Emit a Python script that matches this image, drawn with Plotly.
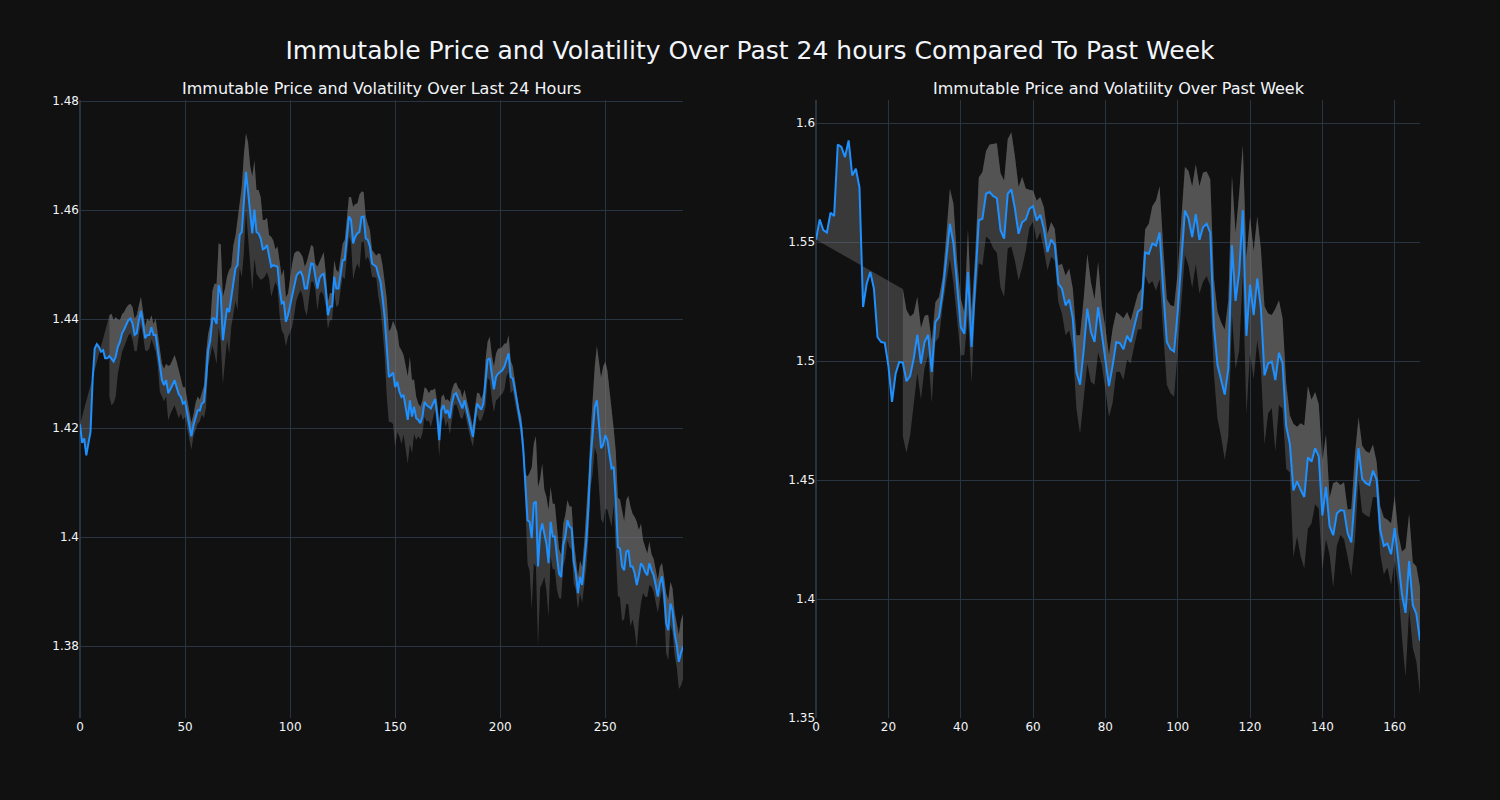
import plotly.graph_objects as go
from plotly.subplots import make_subplots

# ---------------- data ----------------
price_24h = [
    1.4207, 1.4173, 1.4181, 1.4150, 1.4172, 1.4193, 1.4288, 1.4346, 1.4354, 1.4349,
    1.4340, 1.4343, 1.4328, 1.4328, 1.4332, 1.4326, 1.4322, 1.4331, 1.4349, 1.4358,
    1.4374, 1.4381, 1.4391, 1.4398, 1.4401, 1.4392, 1.4371, 1.4374, 1.4398, 1.4415,
    1.4392, 1.4365, 1.4371, 1.4371, 1.4385, 1.4371, 1.4371, 1.4343, 1.4306, 1.4288,
    1.4279, 1.4288, 1.4264, 1.4271, 1.4279, 1.4288, 1.4276, 1.4262, 1.4257, 1.4245,
    1.4248, 1.4227, 1.4202, 1.4185, 1.4205, 1.4221, 1.4233, 1.4232, 1.4245, 1.4248,
    1.4288, 1.4343, 1.4361, 1.4401, 1.4401, 1.4391, 1.4462, 1.4447, 1.4361, 1.4392,
    1.4420, 1.4413, 1.4441, 1.4472, 1.4493, 1.4499, 1.4554, 1.4560, 1.4612, 1.4670,
    1.4634, 1.4591, 1.4557, 1.4601, 1.4560, 1.4557, 1.4548, 1.4528, 1.4530, 1.4536,
    1.4514, 1.4496, 1.4499, 1.4498, 1.4496, 1.4456, 1.4429, 1.4432, 1.4395, 1.4407,
    1.4426, 1.4444, 1.4465, 1.4479, 1.4485, 1.4487, 1.4478, 1.4456, 1.4456, 1.4478,
    1.4502, 1.4501, 1.4478, 1.4456, 1.4475, 1.4481, 1.4483, 1.4453, 1.4407, 1.4423,
    1.4423, 1.4478, 1.4456, 1.4456, 1.4481, 1.4508, 1.4509, 1.4548, 1.4588, 1.4582,
    1.4539, 1.4551, 1.4557, 1.4560, 1.4587, 1.4588, 1.4548, 1.4545, 1.4533, 1.4502,
    1.4499, 1.4496, 1.4481, 1.4469, 1.4439, 1.4403, 1.4348, 1.4294, 1.4297, 1.4302,
    1.4275, 1.4285, 1.4267, 1.4257, 1.4261, 1.4239, 1.4215, 1.4251, 1.4221, 1.4239,
    1.4218, 1.4215, 1.4209, 1.4221, 1.4248, 1.4242, 1.4239, 1.4236, 1.4245, 1.4253,
    1.4224, 1.4178, 1.4233, 1.4242, 1.4227, 1.4233, 1.4218, 1.4245, 1.4261, 1.4264,
    1.4254, 1.4245, 1.4236, 1.4251, 1.4233, 1.4215, 1.4199, 1.4184, 1.4218, 1.4245,
    1.4239, 1.4234, 1.4245, 1.4282, 1.4325, 1.4328, 1.4294, 1.4271, 1.4294, 1.4300,
    1.4303, 1.4306, 1.4313, 1.4325, 1.4337, 1.4294, 1.4291, 1.4270, 1.4245, 1.4221,
    1.4202, 1.4160, 1.4086, 1.4031, 1.4028, 1.3998, 1.4062, 1.4065, 1.3946, 1.4007,
    1.4025, 1.4007, 1.3988, 1.3952, 1.4028, 1.4001, 1.4001, 1.3964, 1.3933, 1.3927,
    1.3985, 1.4001, 1.4031, 1.4019, 1.4016, 1.3955, 1.3933, 1.3897, 1.3927, 1.3912,
    1.3952, 1.3994, 1.4056, 1.4141, 1.4190, 1.4239, 1.4251, 1.4202, 1.4163, 1.4169,
    1.4187, 1.4178, 1.4154, 1.4126, 1.4129, 1.4068, 1.3982, 1.3979, 1.3946, 1.3939,
    1.3973, 1.3976, 1.3946, 1.3946, 1.3933, 1.3912, 1.3930, 1.3952, 1.3946, 1.3936,
    1.3930, 1.3952, 1.3939, 1.3930, 1.3912, 1.3891, 1.3915, 1.3928, 1.3897, 1.3842,
    1.3829, 1.3878, 1.3866, 1.3823, 1.3802, 1.3771, 1.3787, 1.3799,
]

# volatility half-width of the band, first value belongs to index vol_24h_start
vol_24h_start = 14
vol_24h = [
    0.0075, 0.0084, 0.0076, 0.0073, 0.0050, 0.0040, 0.0035, 0.0032, 0.0030, 0.0028,
    0.0027, 0.0030, 0.0030, 0.0033, 0.0027, 0.0026, 0.0022, 0.0022, 0.0030, 0.0025,
    0.0022, 0.0020, 0.0030, 0.0028, 0.0040, 0.0030, 0.0030, 0.0030, 0.0050, 0.0045,
    0.0046, 0.0046, 0.0046, 0.0044, 0.0030, 0.0030, 0.0027, 0.0025, 0.0025, 0.0025,
    0.0020, 0.0025, 0.0025, 0.0020, 0.0020, 0.0030, 0.0050, 0.0030, 0.0030, 0.0050,
    0.0064, 0.0074, 0.0077, 0.0090, 0.0080, 0.0064, 0.0058, 0.0077, 0.0055, 0.0064,
    0.0060, 0.0083, 0.0060, 0.0083, 0.0090, 0.0071, 0.0090, 0.0090, 0.0105, 0.0090,
    0.0077, 0.0080, 0.0076, 0.0054, 0.0052, 0.0050, 0.0040, 0.0055, 0.0045, 0.0030,
    0.0037, 0.0050, 0.0050, 0.0060, 0.0045, 0.0040, 0.0050, 0.0058, 0.0056, 0.0045,
    0.0040, 0.0034, 0.0036, 0.0040, 0.0050, 0.0043, 0.0034, 0.0032, 0.0024, 0.0040,
    0.0030, 0.0030, 0.0040, 0.0030, 0.0025, 0.0025, 0.0025, 0.0030, 0.0034, 0.0030,
    0.0030, 0.0030, 0.0036, 0.0040, 0.0036, 0.0042, 0.0067, 0.0060, 0.0055, 0.0068,
    0.0047, 0.0045, 0.0040, 0.0030, 0.0030, 0.0025, 0.0022, 0.0020, 0.0040, 0.0050,
    0.0060, 0.0070, 0.0090, 0.0083, 0.0086, 0.0095, 0.0110, 0.0092, 0.0082, 0.0086,
    0.0073, 0.0078, 0.0080, 0.0080, 0.0067, 0.0050, 0.0040, 0.0030, 0.0030, 0.0030,
    0.0027, 0.0030, 0.0025, 0.0034, 0.0025, 0.0020, 0.0024, 0.0030, 0.0024, 0.0020,
    0.0024, 0.0020, 0.0030, 0.0025, 0.0020, 0.0020, 0.0020, 0.0025, 0.0020, 0.0020,
    0.0020, 0.0020, 0.0020, 0.0018, 0.0020, 0.0020, 0.0025, 0.0020, 0.0020, 0.0043,
    0.0033, 0.0040, 0.0040, 0.0042, 0.0043, 0.0046, 0.0043, 0.0043, 0.0042, 0.0030,
    0.0034, 0.0030, 0.0022, 0.0020, 0.0020, 0.0015, 0.0020, 0.0020, 0.0030, 0.0080,
    0.0090, 0.0130, 0.0110, 0.0120, 0.0146, 0.0100, 0.0110, 0.0080, 0.0086, 0.0098,
    0.0064, 0.0060, 0.0060, 0.0060, 0.0045, 0.0040, 0.0040, 0.0040, 0.0037, 0.0037,
    0.0040, 0.0040, 0.0030, 0.0030, 0.0030, 0.0033, 0.0040, 0.0050, 0.0055, 0.0050,
    0.0074, 0.0074, 0.0100, 0.0120, 0.0130, 0.0144, 0.0135, 0.0128, 0.0120, 0.0107,
    0.0070, 0.0090, 0.0090, 0.0090, 0.0100, 0.0090, 0.0095, 0.0100, 0.0110, 0.0097,
    0.0104, 0.0116, 0.0083, 0.0073, 0.0048, 0.0046, 0.0040, 0.0040, 0.0030, 0.0030,
    0.0030, 0.0030, 0.0030, 0.0025, 0.0030, 0.0055, 0.0055, 0.0040, 0.0040, 0.0040,
    0.0040, 0.0050, 0.0060, 0.0060,
]

price_7d = [
    1.5510, 1.5595, 1.5550, 1.5540, 1.5623, 1.5610, 1.5910, 1.5900, 1.5857, 1.5927,
    1.5780, 1.5808, 1.5730, 1.5227, 1.5325, 1.5374, 1.5304, 1.5100, 1.5080, 1.5077,
    1.4980, 1.4828, 1.4947, 1.4996, 1.4993, 1.4915, 1.4937, 1.5010, 1.5110, 1.4989,
    1.5080, 1.5110, 1.4954, 1.5164, 1.5185, 1.5290, 1.5430, 1.5577, 1.5493, 1.5304,
    1.5143, 1.5115, 1.5374, 1.5059, 1.5339, 1.5591, 1.5598, 1.5703, 1.5710, 1.5693,
    1.5685, 1.5550, 1.5514, 1.5703, 1.5721, 1.5640, 1.5535, 1.5584, 1.5595, 1.5640,
    1.5651, 1.5591, 1.5615, 1.5556, 1.5458, 1.5511, 1.5489, 1.5325, 1.5304, 1.5234,
    1.5259, 1.5178, 1.4954, 1.4901, 1.5045, 1.5220, 1.5122, 1.5080, 1.5227, 1.5108,
    1.5010, 1.4895, 1.4980, 1.5080, 1.5075, 1.5050, 1.5106, 1.5080, 1.5145, 1.5208,
    1.5220, 1.5456, 1.5450, 1.5494, 1.5485, 1.5540, 1.5298, 1.5080, 1.5050, 1.5040,
    1.5208, 1.5411, 1.5632, 1.5599, 1.5521, 1.5617, 1.5509, 1.5562, 1.5577, 1.5540,
    1.5148, 1.4983, 1.4923, 1.4859, 1.4968, 1.5486, 1.5253, 1.5374, 1.5634, 1.5106,
    1.5321, 1.5193, 1.5347, 1.5223, 1.4940, 1.4990, 1.4998, 1.4920, 1.5035, 1.4990,
    1.4727, 1.4652, 1.4456, 1.4494, 1.4459, 1.4429, 1.4595, 1.4577, 1.4634, 1.4599,
    1.4351, 1.4471, 1.4306, 1.4268, 1.4359, 1.4374, 1.4371, 1.4276, 1.4238, 1.4426,
    1.4634, 1.4505, 1.4487, 1.4479, 1.4539, 1.4502, 1.4291, 1.4223, 1.4233, 1.4188,
    1.4298, 1.4163, 1.4020, 1.3942, 1.4159, 1.3975, 1.3937, 1.3825,
]

vol_7d_start = 24
vol_7d = [
    0.0310, 0.0300, 0.0250, 0.0190, 0.0160, 0.0150, 0.0110, 0.0085, 0.0130, 0.0084,
    0.0084, 0.0060, 0.0098, 0.0147, 0.0168, 0.0120, 0.0120, 0.0090, 0.0180, 0.0150,
    0.0105, 0.0180, 0.0196, 0.0180, 0.0200, 0.0220, 0.0230, 0.0240, 0.0245, 0.0230,
    0.0240, 0.0220, 0.0196, 0.0190, 0.0130, 0.0080, 0.0066, 0.0084, 0.0074, 0.0090,
    0.0077, 0.0073, 0.0067, 0.0077, 0.0105, 0.0126, 0.0130, 0.0126, 0.0154, 0.0207,
    0.0217, 0.0230, 0.0210, 0.0180, 0.0190, 0.0126, 0.0130, 0.0130, 0.0156, 0.0126,
    0.0120, 0.0130, 0.0100, 0.0090, 0.0080, 0.0075, 0.0086, 0.0098, 0.0127, 0.0158,
    0.0190, 0.0195, 0.0180, 0.0180, 0.0185, 0.0190, 0.0166, 0.0170, 0.0185, 0.0200,
    0.0214, 0.0210, 0.0226, 0.0230, 0.0220, 0.0225, 0.0200, 0.0225, 0.0240, 0.0274,
    0.0285, 0.0294, 0.0286, 0.0330, 0.0274, 0.0330, 0.0286, 0.0270, 0.0260, 0.0250,
    0.0290, 0.0210, 0.0195, 0.0300, 0.0220, 0.0190, 0.0180, 0.0120, 0.0280, 0.0230,
    0.0280, 0.0300, 0.0300, 0.0260, 0.0236, 0.0220, 0.0230, 0.0220, 0.0120, 0.0220,
    0.0135, 0.0105, 0.0120, 0.0100, 0.0140, 0.0180, 0.0130, 0.0140, 0.0135, 0.0135,
    0.0110, 0.0075, 0.0100, 0.0120, 0.0100, 0.0130, 0.0136, 0.0110, 0.0180, 0.0270,
    0.0200, 0.0180, 0.0200, 0.0225,
]

main_title = "Immutable Price and Volatility Over Past 24 hours Compared To Past Week"
sub_titles = ["Immutable Price and Volatility Over Last 24 Hours",
              "Immutable Price and Volatility Over Past Week"]

LINE_COLOR = "#1E90FF"
BAND_COLOR = "rgba(128,128,128,0.37)"
FONT = "DejaVu Sans, Verdana, sans-serif"

fig = make_subplots(rows=1, cols=2, subplot_titles=sub_titles)


def add_panel(price, vol, start, col):
    x = list(range(len(price)))
    xb = list(range(start, start + len(vol)))
    upper = [price[i] + v for i, v in zip(xb, vol)]
    lower = [price[i] - v for i, v in zip(xb, vol)]
    fig.add_trace(go.Scatter(x=xb, y=lower, mode="lines", line=dict(width=0),
                             hoverinfo="skip", showlegend=False), row=1, col=col)
    fig.add_trace(go.Scatter(x=xb, y=upper, mode="lines", line=dict(width=0),
                             fill="tonexty", fillcolor=BAND_COLOR,
                             hoverinfo="skip", showlegend=False), row=1, col=col)
    fig.add_trace(go.Scatter(x=x, y=price, mode="lines",
                             line=dict(color=LINE_COLOR, width=2),
                             fill="tonexty", fillcolor=BAND_COLOR,
                             showlegend=False), row=1, col=col)


add_panel(price_24h, vol_24h, vol_24h_start, 1)
add_panel(price_7d, vol_7d, vol_7d_start, 2)

fig.update_layout(
    template="plotly_dark",
    width=1500, height=800,
    margin=dict(l=80, r=80, t=100, b=82),
    font=dict(family=FONT, size=12),
    title=dict(text=main_title, x=0.5, xanchor="center", y=0.9375, yanchor="middle",
               font=dict(size=25, family=FONT)),
    showlegend=False,
    paper_bgcolor="rgb(17,17,17)",
    plot_bgcolor="rgb(17,17,17)",
)

fig.update_xaxes(domain=[0.0, 0.45], range=[0, 287], tick0=0, dtick=50, row=1, col=1)
fig.update_xaxes(domain=[0.5493, 1.0], range=[0, 167], tick0=0, dtick=20, row=1, col=2)
fig.update_yaxes(range=[1.3668, 1.4802], tick0=1.38, dtick=0.02, row=1, col=1)
fig.update_yaxes(range=[1.35, 1.6097], tick0=1.35, dtick=0.05, row=1, col=2)

for ann in fig.layout.annotations:
    ann.font = dict(size=16, family=FONT)

fig.write_html("out.html")
